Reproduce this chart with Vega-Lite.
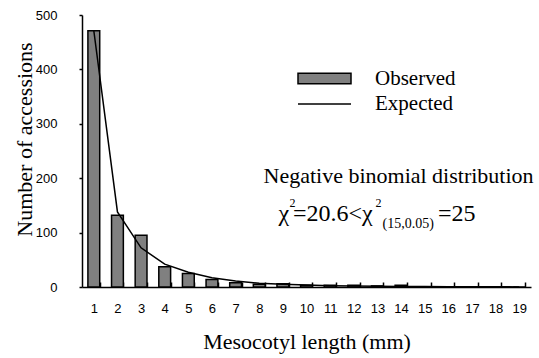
{
  "$schema": "https://vega.github.io/schema/vega-lite/v6.json",
  "width": 449,
  "height": 272,
  "autosize": {"type": "none"},
  "padding": {"left": 82, "top": 15, "right": 8, "bottom": 71},
  "background": "white",
  "config": {
    "view": {"stroke": null},
    "axis": {"grid": false, "domainColor": "black", "tickColor": "black", "domainWidth": 1.5, "tickWidth": 1.5, "labelColor": "black", "titleColor": "black", "labelFont": "Liberation Sans", "labelFontSize": 13, "titleFont": "Liberation Serif", "titleFontWeight": "normal", "titleFontSize": 22}
  },
  "datasets": {
    "main": [
      {"x": 1, "observed": 471, "expected": 471},
      {"x": 2, "observed": 132, "expected": 138},
      {"x": 3, "observed": 95, "expected": 72},
      {"x": 4, "observed": 37, "expected": 42},
      {"x": 5, "observed": 25, "expected": 27},
      {"x": 6, "observed": 14, "expected": 17},
      {"x": 7, "observed": 8, "expected": 11},
      {"x": 8, "observed": 5, "expected": 7},
      {"x": 9, "observed": 6, "expected": 5},
      {"x": 10, "observed": 3, "expected": 3.5},
      {"x": 11, "observed": 3, "expected": 2.5},
      {"x": 12, "observed": 3, "expected": 1.8},
      {"x": 13, "observed": 2, "expected": 1.3},
      {"x": 14, "observed": 3, "expected": 1},
      {"x": 15, "observed": 0, "expected": 0.7},
      {"x": 16, "observed": 0, "expected": 0.5},
      {"x": 17, "observed": 0, "expected": 0.4},
      {"x": 18, "observed": 0, "expected": 0.3},
      {"x": 19, "observed": 0, "expected": 0.2}
    ],
    "note": [{"label": "note"}]
  },
  "encoding": {
    "x": {"field": "x", "type": "ordinal", "sort": null,
      "scale": {"paddingInner": 0.5, "paddingOuter": 0.25},
      "axis": {"title": "Mesocotyl length (mm)", "labelAngle": 0, "tickBand": "extent", "tickSize": -5, "labelPadding": 20, "titleX": 224.5, "titleY": 61, "titleBaseline": "alphabetic", "titleAlign": "center"}}
  },
  "layer": [
    {
      "data": {"name": "main"},
      "mark": {"type": "bar", "stroke": "black", "strokeWidth": 1.5},
      "encoding": {
        "y": {"field": "observed", "type": "quantitative", "scale": {"domain": [0, 500]},
          "axis": {"title": "Number of accessions", "values": [0,50,100,150,200,250,300,350,400,450,500], "tickSize": 3, "labelPadding": 22, "titleX": -58, "titleY": 124, "titleAngle": -90, "titleBaseline": "middle", "titleAlign": "center"}},
        "fill": {"datum": "Observed", "type": "nominal",
          "scale": {"domain": ["Observed"], "range": ["#808080"]},
          "legend": {"title": null, "orient": "none", "legendX": 215, "legendY": 36, "padding": 0, "symbolType": "M-1,-0.2H1V0.2H-1Z", "symbolSize": 2809, "symbolStrokeColor": "black", "symbolStrokeWidth": 1.5, "symbolFillColor": "#808080", "labelFont": "Liberation Serif", "labelFontSize": 21, "labelColor": "black", "labelOffset": 23}}
      }
    },
    {
      "data": {"name": "main"},
      "mark": {"type": "line", "strokeWidth": 1.5},
      "encoding": {
        "y": {"field": "expected", "type": "quantitative"},
        "stroke": {"datum": "Expected", "type": "nominal",
          "scale": {"domain": ["Expected"], "range": ["black"]},
          "legend": {"title": null, "orient": "none", "legendX": 215, "legendY": 61.5, "padding": 0, "symbolType": "stroke", "symbolSize": 2809, "symbolStrokeWidth": 1.5, "labelFont": "Liberation Serif", "labelFontSize": 21, "labelColor": "black", "labelOffset": 23}}
      }
    },
    {
      "data": {"name": "note"},
      "mark": {"type": "text", "text": "Negative binomial distribution", "font": "Liberation Serif", "fontSize": 22, "align": "center", "baseline": "alphabetic", "dx": -2.5, "color": "black"},
      "encoding": {"x": {"datum": 14}, "y": {"datum": 191}}
    },
    {
      "data": {"name": "note"},
      "mark": {"type": "text", "text": "χ", "font": "Liberation Serif, DejaVu Serif, serif", "fontSize": 24, "align": "left", "baseline": "alphabetic", "dx": -28, "color": "black"},
      "encoding": {"x": {"datum": 10}, "y": {"datum": 121.3}}
    },
    {
      "data": {"name": "note"},
      "mark": {"type": "text", "text": "2", "font": "Liberation Serif", "fontSize": 12, "align": "left", "baseline": "alphabetic", "dx": -17, "dy": -14, "color": "black"},
      "encoding": {"x": {"datum": 10}, "y": {"datum": 121.3}}
    },
    {
      "data": {"name": "note"},
      "mark": {"type": "text", "text": "=20.6<χ", "font": "Liberation Serif, DejaVu Serif, serif", "fontSize": 24, "align": "left", "baseline": "alphabetic", "dx": -13.5, "color": "black"},
      "encoding": {"x": {"datum": 10}, "y": {"datum": 121.3}}
    },
    {
      "data": {"name": "note"},
      "mark": {"type": "text", "text": "2", "font": "Liberation Serif", "fontSize": 12, "align": "left", "baseline": "alphabetic", "dx": 69, "dy": -14, "color": "black"},
      "encoding": {"x": {"datum": 10}, "y": {"datum": 121.3}}
    },
    {
      "data": {"name": "note"},
      "mark": {"type": "text", "text": "(15,0.05)", "font": "Liberation Serif", "fontSize": 14, "align": "left", "baseline": "alphabetic", "dx": 76, "dy": 7, "color": "black"},
      "encoding": {"x": {"datum": 10}, "y": {"datum": 121.3}}
    },
    {
      "data": {"name": "note"},
      "mark": {"type": "text", "text": "=25", "font": "Liberation Serif", "fontSize": 24, "align": "left", "baseline": "alphabetic", "dx": 131.5, "color": "black"},
      "encoding": {"x": {"datum": 10}, "y": {"datum": 121.3}}
    }
  ]
}
